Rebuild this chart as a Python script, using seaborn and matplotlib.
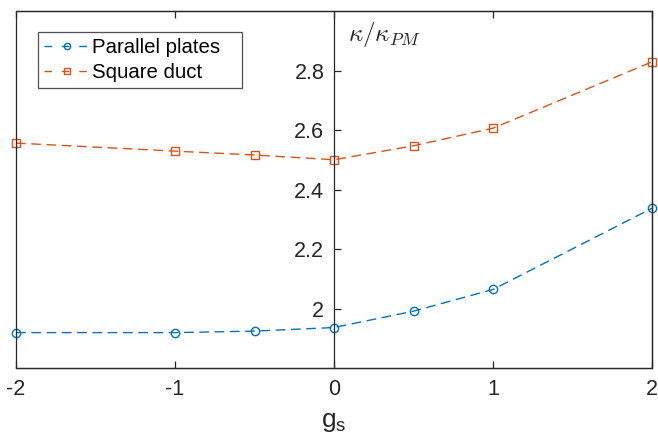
import numpy as np
import pandas as pd
import matplotlib
matplotlib.use("Agg")
import matplotlib.pyplot as plt
from matplotlib.patches import Rectangle
import seaborn as sns

# Data
g_s = [-2, -1, -0.5, 0, 0.5, 1, 2]
parallel_plates = [1.919, 1.919, 1.924, 1.936, 1.991, 2.064, 2.337]
square_duct = [2.556, 2.529, 2.516, 2.500, 2.547, 2.606, 2.829]
x_ticks = [-2, -1, 0, 1, 2]
y_ticks = [2.0, 2.2, 2.4, 2.6, 2.8]
y_tick_labels = ["2", "2.2", "2.4", "2.6", "2.8"]

sns.set_style("white")
plt.rcParams["font.family"] = ["Liberation Sans", "DejaVu Sans"]
plt.rcParams["mathtext.fontset"] = "cm"

ink = "#262626"
blue = "#0072BD"
orange = "#D95319"
dash = (0, (7, 4))

fig = plt.figure(figsize=(6.58, 4.40), dpi=100)
ax = fig.add_axes([16 / 658, 1 - 368 / 440, 636 / 658, 357 / 440])

df = pd.DataFrame({"g_s": g_s, "pp": parallel_plates, "sd": square_duct})
sns.lineplot(data=df, x="g_s", y="pp", ax=ax, color=blue, marker="o",
             markersize=6, markerfacecolor="none", markeredgecolor=blue,
             markeredgewidth=1.0, linewidth=1.0, label="Parallel plates")
sns.lineplot(data=df, x="g_s", y="sd", ax=ax, color=orange, marker="s",
             markersize=5.2, markerfacecolor="none", markeredgecolor=orange,
             markeredgewidth=1.0, linewidth=1.0, label="Square duct")
for line in ax.get_lines():
    line.set_linestyle(dash)
    line.set_clip_on(False)

ax.set_xlim(-2, 2)
ax.set_ylim(1.8, 3.0)
ax.set_xticks(x_ticks)
ax.set_xticklabels([str(v) for v in x_ticks])
ax.set_yticks(y_ticks)
ax.set_yticklabels(y_tick_labels)

# y-axis through the origin, box drawn around the whole axes
ax.spines["left"].set_position(("data", 0))
for s in ["left", "right", "top", "bottom"]:
    ax.spines[s].set_color(ink)
    ax.spines[s].set_linewidth(0.9)
ax.add_patch(Rectangle((0, 0), 1, 1, transform=ax.transAxes, fill=False,
                       edgecolor=ink, linewidth=0.9, clip_on=False, zorder=5))

ax.tick_params(axis="x", direction="in", top=True, bottom=True, length=5,
               width=0.9, color=ink, labelcolor=ink, labelsize=15.5, pad=8)
ax.tick_params(axis="y", direction="in", left=True, right=False, length=5,
               width=0.9, color=ink, labelcolor=ink, labelsize=15.5, pad=7)

ax.set_xlabel(r"$\mathregular{g_s}$", fontsize=19, color=ink, labelpad=7)
ax.set_ylabel("")
ax.text(0.09, 2.922, r"$\kappa/\kappa_{PM}$", fontsize=18, color=ink,
        ha="left", va="center")

leg = ax.legend(loc="upper left",
                bbox_to_anchor=(22 / 636, 1 - 21 / 357, 204 / 636, 0),
                mode="expand", frameon=True, fancybox=False, fontsize=14.7,
                handlelength=2.2, handletextpad=0.15, borderpad=0.3,
                labelspacing=0.3, borderaxespad=0)
leg.get_frame().set_edgecolor(ink)
leg.get_frame().set_linewidth(0.9)
for h in leg.legend_handles:
    h.set_markersize(4.5)
    h.set_linestyle((0, (5.5, 7)))
for t in leg.get_texts():
    t.set_color("black")

fig.savefig("out.png", dpi=100)
